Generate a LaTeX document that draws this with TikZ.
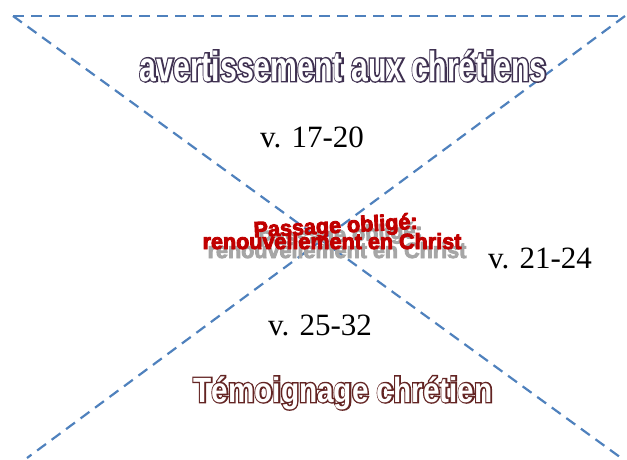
\documentclass[tikz,border=0pt]{standalone}
\usepackage{fontspec}
\setmainfont{Liberation Serif}
\newfontfamily\titlefont{Liberation Sans}[FakeStretch=0.72]
\newfontfamily\titlefontO{Liberation Sans}[FakeStretch=0.72,FakeBold=7]
\newfontfamily\endfont{Liberation Sans}[FakeStretch=0.85]
\newfontfamily\endfontO{Liberation Sans}[FakeStretch=0.85,FakeBold=8]
\newfontfamily\passfont{Liberation Sans}[FakeStretch=0.98,FakeBold=4]
\usetikzlibrary{positioning}
\definecolor{lineblue}{HTML}{4F81BD}
\definecolor{titlepurple}{HTML}{3F3151}
\definecolor{endred}{HTML}{632423}
\definecolor{passred}{HTML}{C00000}
\definecolor{shadowgray}{HTML}{A6A6A6}
\begin{document}
\begin{tikzpicture}[x=1pt,y=-1pt,
every node/.style={inner sep=0pt,anchor=base},
cut/.style={draw=lineblue,line width=2.2pt,dash pattern=on 11pt off 7pt},
verse/.style={font=\fontsize{31}{31}\selectfont},
passtxt/.style={font=\passfont\bfseries\fontsize{22}{22}\selectfont}]
\useasboundingbox (0,0) rectangle (627,459);
\coordinate (TL) at (13,16);
\coordinate (TR) at (625,16);
\coordinate (BL) at (27,458);
\coordinate (BR) at (624,460);
\draw[cut] (TL)--(TR);
\draw[cut] (TL)--(BR);
\draw[cut] (TR)--(BL);
% titres (contour + remplissage)
\node[font=\titlefontO\bfseries\fontsize{42}{42}\selectfont,text=titlepurple] (T1o) at (343,81) {avertissement aux chrétiens};
\node[font=\titlefont\bfseries\fontsize{42}{42}\selectfont,text=white] (T1) at (343,81) {avertissement aux chrétiens};
\node[font=\endfontO\bfseries\fontsize{35}{35}\selectfont,text=endred] (T2o) at (343,402) {Témoignage chrétien};
\node[font=\endfont\bfseries\fontsize{35}{35}\selectfont,text=white] (T2) at (343,402) {Témoignage chrétien};
% passage
\node[passtxt,text=shadowgray,rotate=3] (P1s) at (341,242) {Passage obligé:};
\node[passtxt,text=shadowgray] (P2s) at (337,258) {renouvellement en Christ};
\node[passtxt,text=passred,rotate=3] (P1) at (336,233) {Passage obligé:};
\node[passtxt,text=passred] (P2) at (332,249) {renouvellement en Christ};
% versets
\node[verse] (V1) at (312,147) {v. 17-20};
\node[verse] (V2) at (540,268) {v. 21-24};
\node[verse] (V3) at (320,335) {v. 25-32};
\end{tikzpicture}
\end{document}
